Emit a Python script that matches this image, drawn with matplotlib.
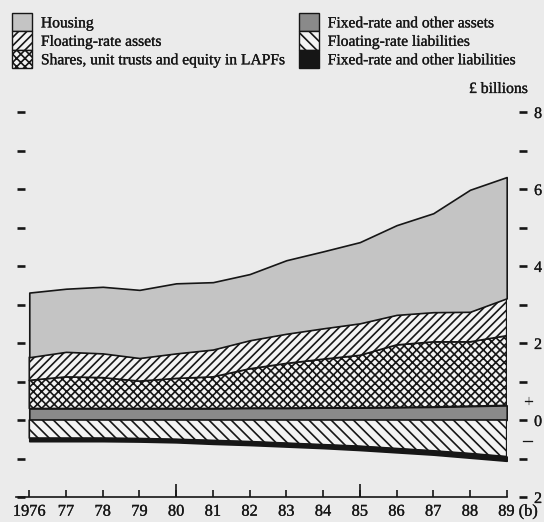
import numpy as np
import matplotlib
matplotlib.use("Agg")
import matplotlib.pyplot as plt
from matplotlib.patches import Patch
from matplotlib.ticker import FixedLocator
import matplotlib.transforms as mtransforms
import matplotlib.patheffects as pe

# --- data (GBP billions) ---
years = np.arange(1976, 1990)
year_labels = ['1976', '77', '78', '79', '80', '81', '82', '83', '84', '85',
               '86', '87', '88', '89 (b)']

# assets, stacked upward from zero (layer sizes)
fixed_assets = [0.30, 0.30, 0.30, 0.30, 0.30, 0.30, 0.31, 0.31, 0.32, 0.32,
                0.33, 0.34, 0.36, 0.38]
shares = [0.73, 0.82, 0.80, 0.71, 0.78, 0.82, 1.02, 1.16, 1.26, 1.36,
          1.62, 1.69, 1.67, 1.81]
floating_assets = [0.60, 0.65, 0.63, 0.60, 0.65, 0.71, 0.74, 0.77, 0.80, 0.83,
                   0.78, 0.77, 0.78, 0.97]
housing = [1.68, 1.64, 1.73, 1.77, 1.82, 1.75, 1.72, 1.91, 2.00, 2.11,
           2.33, 2.57, 3.17, 3.15]

# liabilities, stacked downward from zero
floating_liab = [-0.47, -0.47, -0.47, -0.48, -0.50, -0.53, -0.56, -0.60, -0.64,
                 -0.68, -0.74, -0.80, -0.87, -0.95]
fixed_liab = [-0.08, -0.08, -0.08, -0.08, -0.08, -0.09, -0.09, -0.09, -0.09,
              -0.10, -0.10, -0.10, -0.11, -0.11]

y_ticks = [-2, 0, 2, 4, 6, 8]
y_tick_labels = ['2', '0', '2', '4', '6', '8']
y_minor = [-1, 1, 3, 5, 7]

# --- styles ---
paper = '#ebebeb'
ink = '#161616'
plt.rcParams['font.family'] = ['Liberation Serif', 'DejaVu Serif']
plt.rcParams['hatch.linewidth'] = 1.2
plt.rcParams['hatch.color'] = ink
heavy = [pe.withStroke(linewidth=0.2, foreground=ink)]

styles = {
    'Housing': dict(fc='#c4c4c4', hatch=None),
    'Floating-rate assets': dict(fc='#f3f3f3', hatch='////'),
    'Shares, unit trusts and equity in LAPFs': dict(fc='#f3f3f3', hatch='xxxx'),
    'Fixed-rate and other assets': dict(fc='#8a8a8a', hatch=None),
    'Floating-rate liabilities': dict(fc='#f3f3f3', hatch='\\\\\\'),
    'Fixed-rate and other liabilities': dict(fc=ink, hatch=None),
}

fig = plt.figure(figsize=(5.44, 5.22), dpi=100, facecolor=paper)
ax = fig.add_axes([14.6 / 544, 25 / 522, 492.1 / 544, 385 / 522])
ax.set_facecolor('none')

pos_layers = [('Fixed-rate and other assets', fixed_assets),
              ('Shares, unit trusts and equity in LAPFs', shares),
              ('Floating-rate assets', floating_assets),
              ('Housing', housing)]
neg_layers = [('Floating-rate liabilities', floating_liab),
              ('Fixed-rate and other liabilities', fixed_liab)]

for layers in (pos_layers, neg_layers):
    base = np.zeros(len(years))
    for name, vals in layers:
        top = base + np.array(vals)
        st = styles[name]
        ax.fill_between(years, base, top, facecolor=st['fc'], hatch=st['hatch'],
                        edgecolor=ink, linewidth=1.2, zorder=2)
        base = top

ax.set_xlim(1975.6, 1989.0)
ax.set_ylim(-2, 8)

# only the x axis line is drawn; the y ticks float beside the plot
ax.spines['top'].set_visible(False)
ax.spines['left'].set_position(('data', 1975.88))
ax.spines['left'].set_visible(False)
ax.spines['right'].set_position(('outward', 8.9))
ax.spines['right'].set_visible(False)
ax.spines['bottom'].set_bounds(1975.65, 1989)
ax.spines['bottom'].set_color(ink)
ax.spines['bottom'].set_linewidth(1.2)

ax.yaxis.set_major_locator(FixedLocator(y_ticks))
ax.yaxis.set_minor_locator(FixedLocator(y_minor))
ax.set_yticklabels(y_tick_labels)
ax.tick_params(axis='y', which='both', left=True, right=True, labelleft=False,
               labelright=True, direction='out', length=5.8, width=1.9,
               color=ink, pad=5, labelsize=11.5, labelcolor=ink)

ax.set_xticks(years)
ax.set_xticklabels(year_labels)
ax.xaxis.set_minor_locator(FixedLocator([1980, 1985]))
ax.xaxis.remove_overlapping_locs = False
ax.tick_params(axis='x', which='major', direction='in', length=5, width=1.2,
               color=ink, pad=4.8, labelsize=11.8, labelcolor=ink)
ax.tick_params(axis='x', which='minor', direction='in', length=9.4, width=1.2,
               color=ink)

# "89 (b)": keep 89 centred on its tick, the note mark trailing
last = ax.get_xticklabels()[-1]
last.set_horizontalalignment('left')
last.set_transform(last.get_transform() +
                   mtransforms.ScaledTranslation(-8.5 / 100, 0, fig.dpi_scale_trans))

for lab in ax.get_xticklabels() + ax.get_yticklabels():
    lab.set_path_effects(heavy)

# sign markers on the right scale
sign_tr = mtransforms.blended_transform_factory(fig.transFigure, ax.transData)
ax.text(529 / 544, 0.45, '+', transform=sign_tr, ha='center', va='center',
        fontsize=13, color=ink, path_effects=heavy)
ax.text(528 / 544, -0.55, '\u2013', transform=sign_tr, ha='center', va='center',
        fontsize=13, color=ink, path_effects=heavy)

fig.text(528 / 544, 1 - 89 / 522, '\u00a3 billions', ha='right', va='center',
         fontsize=11.3, color=ink, path_effects=heavy)

# legend
order = ['Housing', 'Floating-rate assets', 'Shares, unit trusts and equity in LAPFs',
         'Fixed-rate and other assets', 'Floating-rate liabilities',
         'Fixed-rate and other liabilities']
handles = [Patch(facecolor=styles[n]['fc'], hatch=styles[n]['hatch'],
                 edgecolor=ink, linewidth=1.0) for n in order]
leg = fig.legend(handles, order, loc='upper left',
                 bbox_to_anchor=(12 / 544, 1 - 13 / 522),
                 ncol=2, frameon=False, fontsize=11.2, handlelength=1.28,
                 handleheight=1.45, handletextpad=0.58, labelspacing=0,
                 columnspacing=0.9, borderpad=0, borderaxespad=0, labelcolor=ink)
for t in leg.get_texts():
    t.set_path_effects(heavy)

fig.savefig('out.png', dpi=100, facecolor=paper)
